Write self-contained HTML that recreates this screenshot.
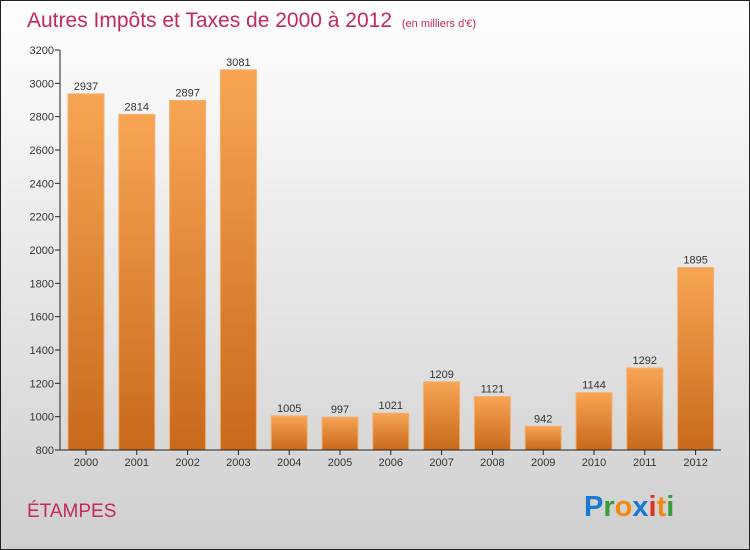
<!DOCTYPE html>
<html><head><meta charset="utf-8"><style>
html,body{margin:0;padding:0}
svg{display:block;font-family:"Liberation Sans",sans-serif}
</style></head><body>
<svg id="c" width="750" height="550" xmlns="http://www.w3.org/2000/svg">
<defs>
<linearGradient id="bg" x1="0" y1="0" x2="0" y2="1"><stop offset="0" stop-color="#ffffff"/><stop offset="1" stop-color="#cfcfcf"/></linearGradient>
<linearGradient id="bar" x1="0" y1="0" x2="0" y2="1"><stop offset="0" stop-color="#f7a554"/><stop offset="1" stop-color="#c8691c"/></linearGradient>
</defs>
<rect x="0.5" y="0.5" width="749" height="549" fill="url(#bg)" stroke="#222"/>
<text x="27" y="27" font-size="21" fill="#c4285c">Autres Impôts et Taxes de 2000 à 2012 <tspan font-size="11" dx="4">(en milliers d'€)</tspan></text>
<g id="grid"></g>
<g id="bars"></g>
<line x1="60" y1="50" x2="60" y2="450" stroke="#222"/>
<line x1="60" y1="450" x2="721" y2="450" stroke="#222"/>
<text x="27" y="517" font-size="19" fill="#c4285c">ÉTAMPES</text>
<g font-size="29" font-weight="bold">
<text x="584" y="516" fill="#1a77d2">P<tspan fill="#3a9a3a">r</tspan><tspan fill="#f08a10">o</tspan><tspan fill="#1a77d2">x</tspan><tspan fill="#e03020">i</tspan><tspan fill="#f08a10">t</tspan><tspan fill="#3a9a3a">i</tspan></text>
</g>
</svg>
<script>
const years=["2000","2001","2002","2003","2004","2005","2006","2007","2008","2009","2010","2011","2012"];
const values=[2937,2814,2897,3081,1005,997,1021,1209,1121,942,1144,1292,1895];
const yTicks=[800,1000,1200,1400,1600,1800,2000,2200,2400,2600,2800,3000,3200];
const NS="http://www.w3.org/2000/svg";
const y=v=>450-(v-800)*400/2400;
const x=i=>86+i*50.8;
function mk(t,a,txt){const e=document.createElementNS(NS,t);for(const k in a)e.setAttribute(k,a[k]);if(txt!=null)e.textContent=txt;return e;}
const g=document.getElementById('grid'),b=document.getElementById('bars');
yTicks.forEach(v=>{
 const l=mk('line',{x1:55,x2:60,y1:y(v),y2:y(v),stroke:'#222'});
 
 
 g.appendChild(l);
 const t=mk('text',{x:54,y:y(v)+4,'font-size':11,'text-anchor':'end',fill:'#333'},v);
 
 
 g.appendChild(t);
});
values.forEach((v,i)=>{
 const r=mk('rect',{x:x(i)-18,y:y(v),width:36,height:450-y(v),fill:'url(#bar)',stroke:'#f5b070','stroke-width':1});
 
 
 b.appendChild(r);
 const t=mk('text',{x:x(i),y:y(v)-4,'font-size':11,'text-anchor':'middle',fill:'#333'},v);
 
 
 b.appendChild(t);
 const tk=mk('line',{x1:x(i),x2:x(i),y1:450,y2:455,stroke:'#222'});
 
 
 b.appendChild(tk);
 const xl=mk('text',{x:x(i),y:466,'font-size':11,'text-anchor':'middle',fill:'#333'},years[i]);
 
 
 b.appendChild(xl);
});
</script>
</body></html>
